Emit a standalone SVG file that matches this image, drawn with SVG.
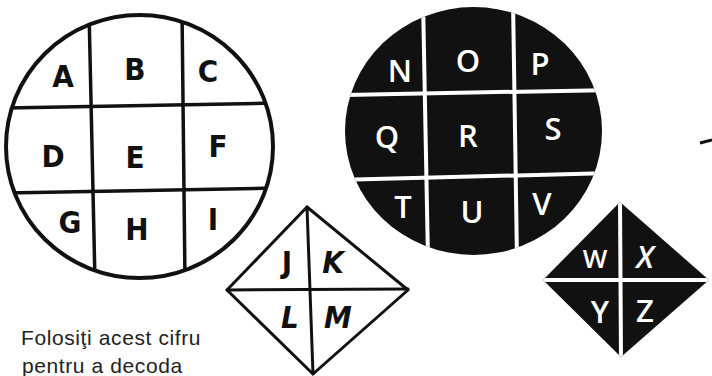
<svg xmlns="http://www.w3.org/2000/svg" width="712" height="376" viewBox="0 0 712 376">
  <defs>
    <clipPath id="clipC1"><ellipse cx="139.5" cy="146.5" rx="133.5" ry="131.5"/></clipPath>
    <clipPath id="clipC2"><ellipse cx="473.5" cy="131" rx="128.5" ry="124"/></clipPath>
    <clipPath id="clipD2"><polygon points="620,202 709,280 621,357 543,280"/></clipPath>
  </defs>
  <style>
    .ink { stroke: #111; fill: none; stroke-linecap: round; }
    .wline { stroke: #fff; stroke-width: 4; fill: none; }
    .blk { font-family: "DejaVu Sans", "Liberation Sans", sans-serif; font-weight: bold; font-stretch: condensed; font-size: 31px; fill: #111; text-anchor: middle; }
    .wht { font-family: "Open Sans", "DejaVu Sans", sans-serif; font-weight: 600; font-size: 31px; fill: #fff; text-anchor: middle; }
    .it { font-style: italic; }
    .note { font-family: "Liberation Sans", Arial, sans-serif; font-size: 21px; fill: #222; letter-spacing: 0.6px; }
  </style>
  <rect width="712" height="376" fill="#fff"/>

  <g id="circle-A-I">
    <g clip-path="url(#clipC1)">
      <line class="ink" stroke-width="3.5" x1="89" y1="10" x2="95" y2="282"/>
      <line class="ink" stroke-width="3.5" x1="182" y1="10" x2="185" y2="282"/>
      <line class="ink" stroke-width="3.5" x1="2" y1="108" x2="278" y2="103"/>
      <line class="ink" stroke-width="3.5" x1="2" y1="193" x2="278" y2="188"/>
    </g>
    <ellipse class="ink" stroke-width="4" cx="139.5" cy="146.5" rx="133.5" ry="131.5"/>
    <text class="blk" x="63" y="87">A</text>
    <text class="blk" x="135" y="80">B</text>
    <text class="blk" x="208" y="82">C</text>
    <text class="blk" x="53" y="167">D</text>
    <text class="blk" x="135" y="168">E</text>
    <text class="blk" x="218" y="157">F</text>
    <text class="blk" x="70" y="233">G</text>
    <text class="blk" x="137" y="240">H</text>
    <text class="blk" x="213" y="230">I</text>
  </g>

  <g id="circle-N-V">
    <ellipse cx="473.5" cy="131" rx="128.5" ry="124" fill="#111"/>
    <g clip-path="url(#clipC2)">
      <line class="wline" x1="423" y1="0" x2="428" y2="260"/>
      <line class="wline" x1="513" y1="0" x2="517" y2="260"/>
      <line class="wline" x1="340" y1="95" x2="610" y2="90"/>
      <line class="wline" x1="340" y1="180" x2="610" y2="173"/>
    </g>
    <text class="wht" x="400" y="82">N</text>
    <text class="wht" x="468" y="72">O</text>
    <text class="wht" x="540" y="75">P</text>
    <text class="wht" x="387" y="148">Q</text>
    <text class="wht" x="468" y="147">R</text>
    <text class="wht" x="553" y="140">S</text>
    <text class="wht" x="403" y="218">T</text>
    <text class="wht" x="472" y="223">U</text>
    <text class="wht" x="542" y="215">V</text>
  </g>

  <g id="diamond-J-M">
    <polygon class="ink" stroke-width="3" stroke-linejoin="round" points="307,207 408,290 313,374 227,290" fill="#fff"/>
    <line class="ink" stroke-width="3" x1="307" y1="207" x2="313" y2="374"/>
    <line class="ink" stroke-width="3" x1="227" y1="290" x2="408" y2="289"/>
    <text class="blk" x="287" y="273">J</text>
    <text class="blk it" x="333" y="273">K</text>
    <text class="blk it" x="290" y="328">L</text>
    <text class="blk it" x="338" y="328">M</text>
  </g>

  <g id="diamond-W-Z">
    <polygon points="620,202 709,280 621,357 543,280" fill="#111"/>
    <g clip-path="url(#clipD2)">
      <line class="wline" x1="620" y1="200" x2="621" y2="360"/>
      <line class="wline" x1="540" y1="280" x2="712" y2="280"/>
    </g>
    <text class="wht" x="595" y="268" style="font-size:26px">W</text>
    <text class="wht it" x="645" y="268">X</text>
    <text class="wht" x="600" y="323">Y</text>
    <text class="wht" x="645" y="322">Z</text>
  </g>

  <g id="note">
    <text class="note" x="21" y="345">Folosiţi acest cifru</text>
    <text class="note" x="22" y="373">pentru a decoda</text>
  </g>

  <line id="dash" x1="700" y1="143" x2="712" y2="140" stroke="#111" stroke-width="3"/>
</svg>
